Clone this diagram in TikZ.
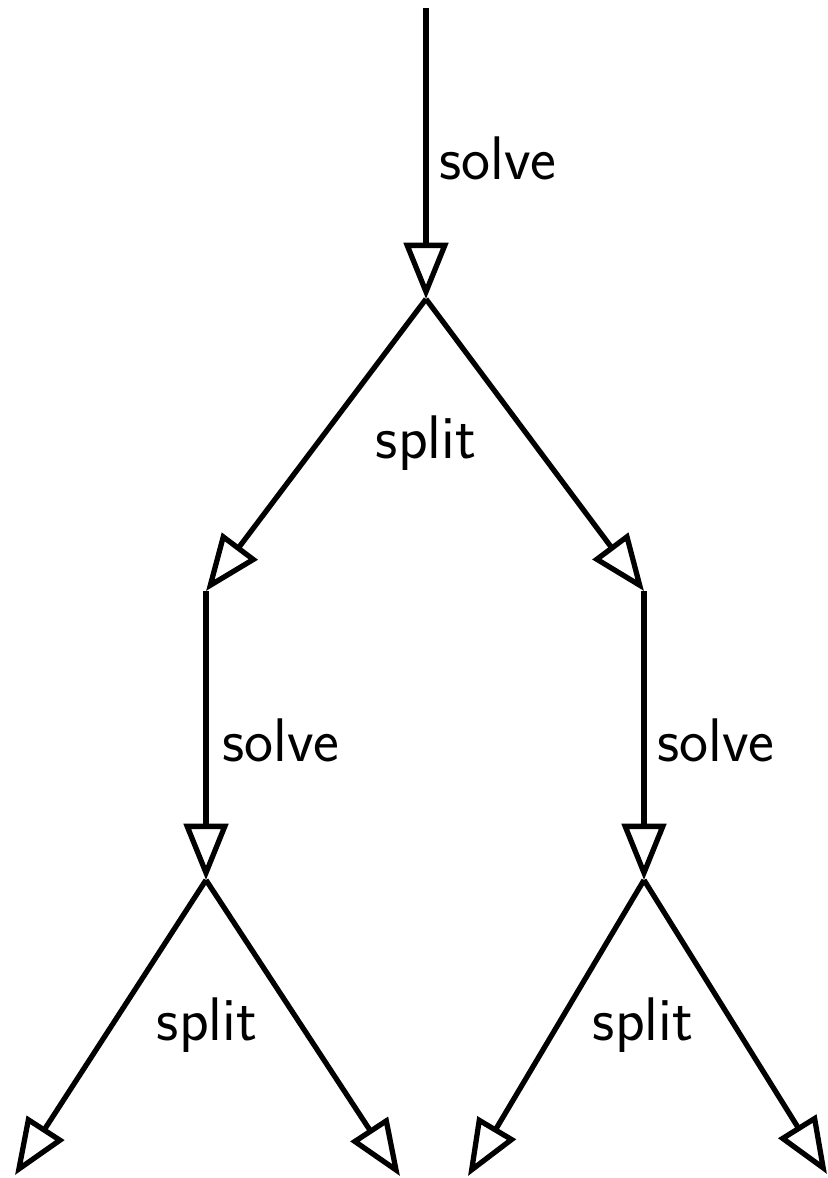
\documentclass[tikz,border=0pt]{standalone}
\usepackage{tikz}
\usetikzlibrary{arrows.meta}

\begin{document}
\begin{tikzpicture}[x=0.01cm, y=-0.01cm, line width=1.5pt,
  font=\fontsize{17.5}{21}\sffamily,
  flow/.style={-{Triangle[open, length=16pt, width=12.5pt, line width=1.5pt]}}]
  \useasboundingbox (0,0) rectangle (828,1178);
  % points of the call tree
  \coordinate (start) at (426,8);
  \coordinate (root)  at (426,299);
  \coordinate (l)     at (206,591);
  \coordinate (r)     at (644,591);
  \coordinate (lroot) at (206,880);
  \coordinate (rroot) at (644,880);
  \coordinate (ll)    at (15,1175);
  \coordinate (lr)    at (400,1176);
  \coordinate (rl)    at (468,1176);
  \coordinate (rr)    at (827,1174);
  % solve / split steps
  \draw[flow] (start) -- (root);
  \draw[flow] (root) -- (l);
  \draw[flow] (root) -- (r);
  \draw[flow] (l) -- (lroot);
  \draw[flow] (r) -- (rroot);
  \draw[flow] (lroot) -- (ll);
  \draw[flow] (lroot) -- (lr);
  \draw[flow] (rroot) -- (rl);
  \draw[flow] (rroot) -- (rr);
  % labels
  \node (solvetop) at (498,158) {solve};
  \node (splittop) at (426,443) {split};
  \node (solvel)   at (281,740) {solve};
  \node (solver)   at (716,740) {solve};
  \node (splitl)   at (207,1025) {split};
  \node (splitr)   at (643,1025) {split};
\end{tikzpicture}
\end{document}
